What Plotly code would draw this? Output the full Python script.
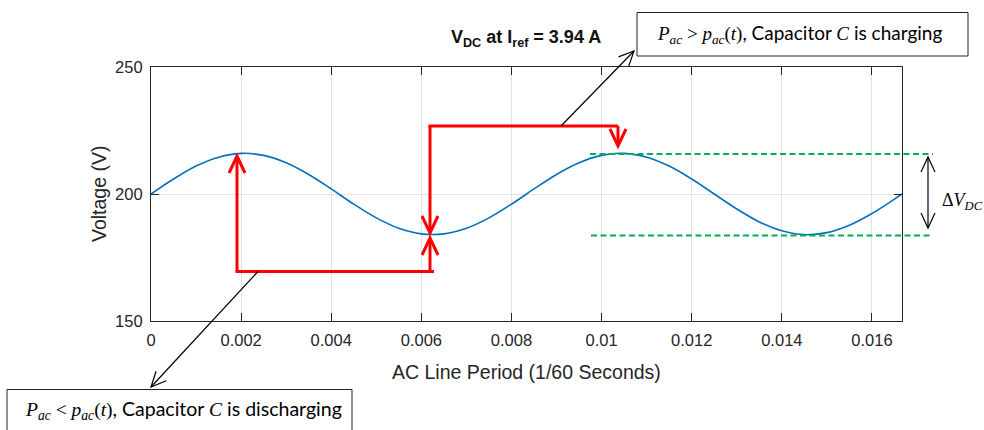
import math
import plotly.graph_objects as go

# ---- data ----
time_s = [0, 0.0005, 0.001, 0.0015, 0.002, 0.0025, 0.003, 0.0035, 0.004, 0.0045,
          0.005, 0.0055, 0.006, 0.0065, 0.007, 0.0075, 0.008, 0.0085, 0.009, 0.0095,
          0.010, 0.0105, 0.011, 0.0115, 0.012, 0.0125, 0.013, 0.0135, 0.014, 0.0145,
          0.015, 0.0155, 0.016, 0.0165, 0.016667]
voltage_v = [200.0, 205.9, 211.0, 214.5, 216.0, 215.2, 212.3, 207.7, 202.0, 196.0,
             190.6, 186.5, 184.3, 184.3, 186.5, 190.6, 196.0, 202.0, 207.7, 212.3,
             215.2, 216.0, 214.5, 211.0, 205.9, 200.0, 194.1, 189.0, 185.5, 184.0,
             184.8, 187.7, 192.3, 198.0, 200.0]
x_ticks = [0, 0.002, 0.004, 0.006, 0.008, 0.01, 0.012, 0.014, 0.016]
x_tick_labels = ["0", "0.002", "0.004", "0.006", "0.008", "0.01", "0.012", "0.014", "0.016"]
y_ticks = [150, 200, 250]
y_tick_labels = ["150", "200", "250"]

W, H = 984, 430
PL, PT, PR, PB = 151, 67, 902, 321          # plot area in pixels
L, T = PL, PT
PW, PH = PR - PL, PB - PT
R, B = W - L - PW, H - T - PH

def P(px, py):
    return (px - PL) / PW, (PB - py) / PH

def seg(x0, y0, x1, y1):
    a, b = P(x0, y0)
    c, d = P(x1, y1)
    return f"M{a},{b} L{c},{d}"

def head(tx, ty, fx, fy, length=17, half=8):
    dx, dy = tx - fx, ty - fy
    n = math.hypot(dx, dy)
    ux, uy = dx / n, dy / n
    px_, py_ = -uy, ux
    bx, by = tx - ux * length, ty - uy * length
    a = P(bx + px_ * half, by + py_ * half)
    t = P(tx, ty)
    c = P(bx - px_ * half, by - py_ * half)
    return f"M{a[0]},{a[1]} L{t[0]},{t[1]} L{c[0]},{c[1]}"

fig = go.Figure()
fig.add_trace(go.Scatter(x=time_s, y=voltage_v, mode="lines",
                         line=dict(color="#0072BD", width=1.6, shape="spline"),
                         showlegend=False, hoverinfo="skip"))

shapes = []
def add_path(path, color, width, dash=None):
    ln = dict(color=color, width=width)
    if dash:
        ln["dash"] = dash
    shapes.append(dict(type="path", xref="paper", yref="paper", path=path,
                       line=ln, layer="above"))

RED = "#FF0000"
# red bracket from left peak to trough
add_path(seg(237, 271.5, 237, 157), RED, 3)
add_path(head(237, 156, 237, 200), RED, 3)
add_path(seg(235.5, 271.5, 434, 271.5), RED, 3)
add_path(seg(430, 271.5, 430, 239), RED, 3)
add_path(head(430, 238, 430, 270), RED, 3)
# red bracket from trough to right peak
add_path(seg(430, 232, 430, 126), RED, 3)
add_path(head(430, 233, 430, 200), RED, 3)
add_path(seg(428.5, 126, 618, 126), RED, 3)
add_path(seg(618, 126, 618, 145), RED, 3)
add_path(head(618, 146, 618, 120), RED, 3)

# green dashed ripple limits
GREEN = "#00B050"
add_path(seg(590, 154, 933, 154), GREEN, 2, "6px,3.5px")
add_path(seg(591, 235.5, 931, 235.5), GREEN, 2, "6px,3.5px")

# black pointer arrows
add_path(seg(561, 126, 634, 51), "black", 1.2)
add_path(head(634, 51, 561, 126, 15, 7), "black", 1.2)
add_path(seg(258, 271.5, 151, 387), "black", 1.2)
add_path(head(151, 387, 258, 271.5, 15, 7), "black", 1.2)
# delta V double arrow
add_path(seg(928, 157, 928, 228), "black", 1.2)
add_path(head(928, 157, 928, 200, 15, 7), "black", 1.2)
add_path(head(928, 228, 928, 190, 15, 7), "black", 1.2)

# text boxes
b0 = P(637, 56); b1 = P(968, 12.5)
shapes.append(dict(type="rect", xref="paper", yref="paper", x0=b0[0], y0=b0[1],
                   x1=b1[0], y1=b1[1], line=dict(color="#222", width=1),
                   fillcolor="white", layer="above"))
b0 = P(7, 440); b1 = P(352, 389.5)
shapes.append(dict(type="rect", xref="paper", yref="paper", x0=b0[0], y0=b0[1],
                   x1=b1[0], y1=b1[1], line=dict(color="#222", width=1),
                   fillcolor="white", layer="above"))

MATH = "Liberation Serif"
SANS = "Lato"
def mi(s):
    return f'<span style="font-family:{MATH}"><i>{s}</i></span>'

annotations = []
def ann(px, py, text, size, family, color="black", xanchor="center", yanchor="middle", angle=0):
    x, y = P(px, py)
    annotations.append(dict(x=x, y=y, xref="paper", yref="paper", text=text,
                            showarrow=False, xanchor=xanchor, yanchor=yanchor,
                            textangle=angle,
                            font=dict(size=size, family=family, color=color)))

charging = (mi("P<sub>ac</sub>") + f'<span style="font-family:{MATH}"> &gt; </span>'
            + mi("p<sub>ac</sub>") + f'<span style="font-family:{MATH}">(<i>t</i>)</span>'
            + ", Capacitor " + mi("C") + " is charging")
discharging = (mi("P<sub>ac</sub>") + f'<span style="font-family:{MATH}"> &lt; </span>'
               + mi("p<sub>ac</sub>") + f'<span style="font-family:{MATH}">(<i>t</i>)</span>'
               + ", Capacitor " + mi("C") + " is discharging")
ann(799, 34, charging, 19, SANS)
ann(183, 410, discharging, 19.5, SANS)
ann(962, 201, "Δ<i>V<sub>DC</sub></i>", 18, MATH)
ann(526, 38, "<b>V<sub>DC</sub> at I<sub>ref</sub> = 3.94 A</b>", 18, "Liberation Sans", "#111")
ann(526, 372, "AC Line Period (1/60 Seconds)", 19.5, "Liberation Sans", "#262626")
ann(99, 194, "Voltage (V)", 19.5, "Liberation Sans", "#262626", angle=-90)

fig.update_layout(
    width=W, height=H,
    margin=dict(l=L, r=R, t=T, b=B, pad=0),
    paper_bgcolor="white", plot_bgcolor="white",
    shapes=shapes, annotations=annotations,
    showlegend=False,
)
axis_common = dict(showline=True, linecolor="#262626", linewidth=1.2, mirror="ticks",
                   ticks="inside", ticklen=8, tickcolor="#262626", tickwidth=1.2,
                   showgrid=True, gridcolor="#E3E3E3", gridwidth=1, zeroline=False,
                   tickfont=dict(family="Liberation Sans", size=16.5, color="#262626"))
fig.update_xaxes(range=[0, 0.016667], tickvals=x_ticks, ticktext=x_tick_labels,
                 ticklabelstandoff=4, **axis_common)
fig.update_yaxes(range=[150, 250], tickvals=y_ticks, ticktext=y_tick_labels,
                 ticklabelstandoff=4, **axis_common)

fig.write_html("out.html", config={"displayModeBar": False},
               post_script="document.body.style.margin='0';document.body.style.overflow='hidden';")
